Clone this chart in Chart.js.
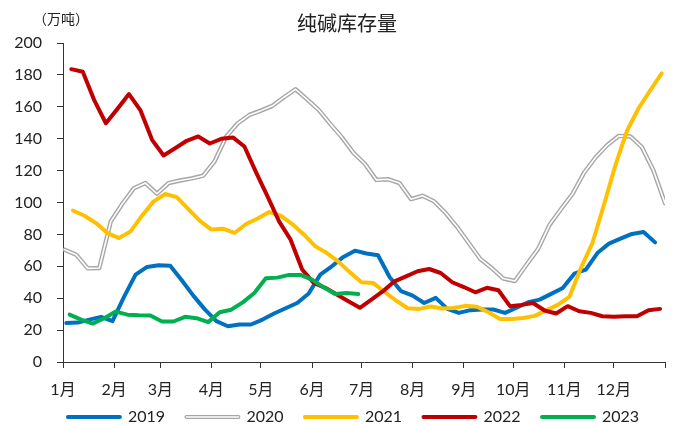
<!DOCTYPE html>
<html>
<head>
<meta charset="utf-8">
<title>纯碱库存量</title>
<script src="https://cdn.jsdelivr.net/npm/chart.js@4.4.0/dist/chart.umd.min.js"></script>
<style>
    html, body { margin: 0; padding: 0; background: #ffffff; }
</style>
</head>
<body>
<canvas id="stock_chart" width="677" height="425"></canvas>
<script>
// weekly soda ash inventory (万吨), one value per Thursday
const stock2019 = [24.5, 24.7, 26.6, 28.3, 25.6, 40.8, 54.8, 59.6, 60.6, 60.4,
    51.2, 41.6, 33, 25.6, 22.4, 23.5, 23.5, 26.6, 30.4, 33.7,
    37, 42.9, 54.8, 60, 65.9, 69.8, 68, 66.9, 53.3, 44.4,
    41.6, 37, 40.2, 33.3, 30.8, 32.5, 32.9, 32.9, 30.8, 34,
    37.5, 39.1, 42.7, 46.4, 55.4, 57.9, 68.3, 74.2, 77.3, 80.3,
    81.5, 75];
const stock2020 = [70.4, 67.3, 58.7, 58.9, 88.2, 99.2, 109, 112.2, 105.5, 112.2,
    113.8, 115.1, 116.8, 126, 141.4, 149.7, 154.9, 157.6, 160.6, 166,
    171, 164.7, 158.1, 149.3, 141, 131.3, 124.3, 114.2, 114.6, 112.2,
    102.1, 104.2, 100.7, 93.4, 84.6, 74.6, 64.6, 58.9, 52.3, 50.8,
    61, 70.8, 86, 95.9, 105.5, 118.8, 128.4, 136, 141.8, 141.4,
    134.7, 120.1, 99.6];
const stock2021 = [95, 91.7, 87.1, 80.8, 77.7, 81.9, 91.9, 100.7, 105.3, 103.4,
    95.9, 88.5, 83, 83.6, 80.9, 86.5, 90, 94, 91.7, 86.5,
    80, 72.5, 68.3, 62.9, 56.2, 50, 49.6, 43.9, 38.5, 33.7,
    33.3, 34.8, 33.5, 33.9, 35.2, 34.6, 31.2, 27, 27, 27.6,
    28.9, 32.4, 35.8, 40.8, 58.9, 74.6, 98.6, 123.6, 145.1, 159.1,
    170.2, 181];
const stock2022 = [183.6, 182, 164, 149.7, 158.7, 168, 157.7, 139.3, 129.5, 134,
    138.7, 141.4, 137, 139.9, 140.8, 135.1, 119, 103.8, 88.2, 76.7,
    58, 49.6, 46.5, 42.3, 38.1, 34, 39.1, 44.4, 50.6, 53.7,
    56.9, 58.3, 55.8, 50, 47, 43.7, 46.5, 45, 35, 35.8,
    37, 32.3, 30.4, 35, 31.8, 30.8, 28.7, 28.3, 28.7, 28.7,
    32.5, 33.3];
const stock2023 = [29.7, 26.6, 24.1, 27.4, 31.6, 29.7, 29.3, 29.1, 25.4, 25.4,
    28.3, 27.5, 25, 31.2, 32.8, 37.4, 43.3, 52.5, 52.9, 54.6,
    54.6, 51.6, 46.8, 42.6, 43.2, 42.6];

const years = ['2019', '2020', '2021', '2022', '2023'];
// day of year (0 = 1 Jan) of the first Thursday of each year
const firstThursday = [2, 1, 6, 5, 4];
const monthStart = [0, 31, 59, 90, 120, 151, 181, 212, 243, 273, 304, 334, 365];
const monthLabels = ['1月', '2月', '3月', '4月', '5月', '6月', '7月', '8月', '9月', '10月', '11月', '12月', ''];
const chartTitle = '纯碱库存量';
const unitLabel = '（万吨）';

const axisColor = '#333333';
const textColor = '#222222';
const numFont = 'Lato, "Noto Sans CJK SC"';

function weekly(values, start) {
    return values.map((v, i) => ({ x: start + 7 * i, y: v }));
}

function lineSet(label, values, start, color, width, order) {
    return {
        label: label,
        data: weekly(values, start),
        borderColor: color,
        backgroundColor: color,
        borderWidth: width,
        pointRadius: 0,
        pointHoverRadius: 0,
        tension: 0,
        fill: false,
        borderJoinStyle: 'round',
        borderCapStyle: 'round',
        order: order
    };
}

// legend row sits a bit right of the canvas centre and tucks up under the month labels
const legendShift = {
    id: 'legendShift',
    afterLayout(chart) {
        const lg = chart.legend;
        lg.left += 20;
        lg.right += 20;
        lg.top -= 14.4;
        lg.bottom -= 14.4;
    }
};

// title, unit and the white core of the 2020 legend line
const extraDraw = {
    id: 'extraDraw',
    afterDraw(chart) {
        const ctx = chart.ctx;
        ctx.save();
        ctx.fillStyle = textColor;
        ctx.textAlign = 'center';
        ctx.textBaseline = 'middle';
        ctx.font = '20px "Noto Sans CJK SC"';
        ctx.fillText(chartTitle, 347, 23);
        ctx.font = '14px "Noto Sans CJK SC"';
        ctx.fillText(unitLabel, 61, 19);

        const legend = chart.legend;
        const idx = legend.legendItems.findIndex(it => it.text === '2020');
        if (idx >= 0) {
            const box = legend.legendHitBoxes[idx];
            const w = legend.options.labels.pointStyleWidth;
            const cy = box.top + box.height / 2;
            ctx.strokeStyle = '#ffffff';
            ctx.lineWidth = 1.6;
            ctx.lineCap = 'round';
            ctx.beginPath();
            ctx.moveTo(box.left, cy);
            ctx.lineTo(box.left + w, cy);
            ctx.stroke();
        }
        ctx.restore();
    }
};

new Chart(document.getElementById('stock_chart'), {
    type: 'line',
    data: {
        datasets: [
            lineSet(years[0], stock2019, firstThursday[0], '#0070C0', 4, 6),
            lineSet(years[1], stock2020, firstThursday[1], '#A6A6A6', 4.4, 5),
            lineSet('2020 inner', stock2020, firstThursday[1], '#FFFFFF', 1.6, 4),
            lineSet(years[2], stock2021, firstThursday[2], '#FFC000', 4, 3),
            lineSet(years[3], stock2022, firstThursday[3], '#C00000', 4, 2),
            lineSet(years[4], stock2023, firstThursday[4], '#00B050', 4, 1)
        ]
    },
    options: {
        responsive: false,
        animation: false,
        devicePixelRatio: 1,
        layout: { padding: { left: 0, right: 10, top: 43, bottom: -24.4 } },
        plugins: {
            title: { display: false },
            tooltip: { enabled: false },
            legend: {
                position: 'bottom',
                labels: {
                    usePointStyle: true,
                    pointStyleWidth: 52,
                    padding: 21.4,
                    color: textColor,
                    font: { family: numFont, size: 16 },
                    generateLabels: (chart) => chart.data.datasets
                        .map((ds, i) => ({
                            text: ds.label,
                            strokeStyle: ds.borderColor,
                            fillStyle: ds.borderColor,
                            fontColor: textColor,
                            lineWidth: 4,
                            lineCap: 'round',
                            pointStyle: 'line',
                            hidden: false,
                            datasetIndex: i
                        }))
                        .filter(item => years.includes(item.text))
                }
            }
        },
        scales: {
            x: {
                type: 'linear',
                min: 0,
                max: 365,
                afterBuildTicks: (scale) => {
                    scale.ticks = monthStart.map(v => ({ value: v }));
                },
                afterFit: (scale) => { scale.height = 40; },
                grid: { drawOnChartArea: false, drawTicks: true, tickLength: 6, color: axisColor, lineWidth: 1 },
                border: { display: true, color: axisColor, width: 1 },
                ticks: {
                    autoSkip: false,
                    maxRotation: 0,
                    padding: 12,
                    color: textColor,
                    font: { family: numFont, size: 16 },
                    callback: (value, index) => monthLabels[index]
                }
            },
            y: {
                min: 0,
                max: 200,
                afterFit: (scale) => { scale.width = 63; },
                grid: { drawOnChartArea: false, drawTicks: true, tickLength: 6, color: axisColor, lineWidth: 1 },
                border: { display: true, color: axisColor, width: 1 },
                ticks: {
                    stepSize: 20,
                    padding: 15,
                    color: textColor,
                    font: { family: numFont, size: 16 }
                }
            }
        }
    },
    plugins: [legendShift, extraDraw]
});
</script>
</body>
</html>
